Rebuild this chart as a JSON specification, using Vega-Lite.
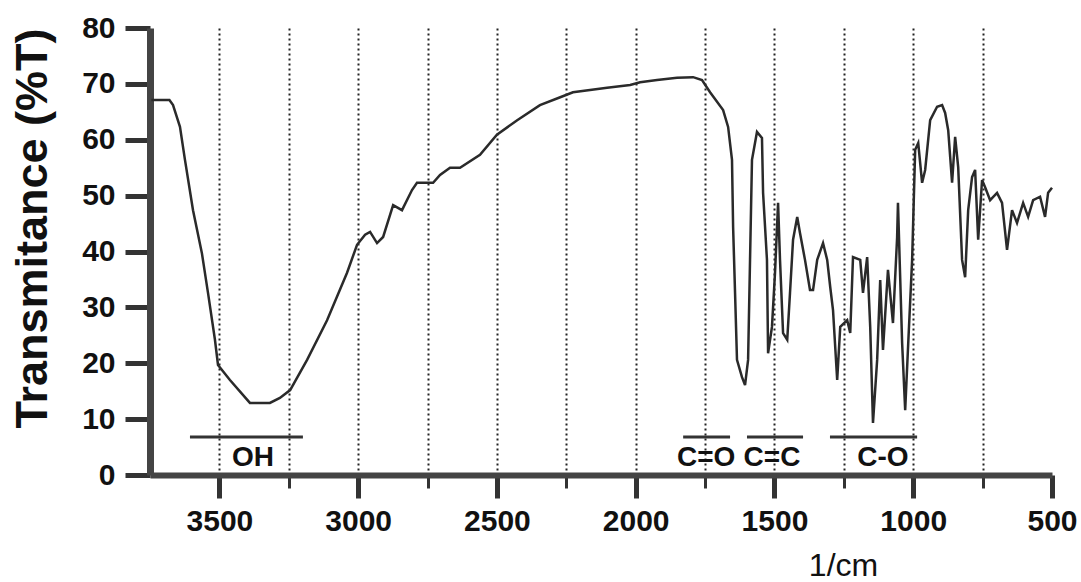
{
  "$schema": "https://vega.github.io/schema/vega-lite/v6.json",
  "width": 902,
  "height": 447,
  "autosize": {"type": "none"},
  "padding": {"left": 150, "top": 28, "right": 29, "bottom": 107},
  "background": "white",
  "config": {"view": {"stroke": null}, "font": "Liberation Sans"},
  "datasets": {
    "spectrum": [
      {"wavenumber": 3745, "transmittance": 67.1},
      {"wavenumber": 3680, "transmittance": 67.1},
      {"wavenumber": 3667, "transmittance": 66.2},
      {"wavenumber": 3642, "transmittance": 62.3},
      {"wavenumber": 3624, "transmittance": 56.4},
      {"wavenumber": 3595, "transmittance": 47.4},
      {"wavenumber": 3563, "transmittance": 39.7},
      {"wavenumber": 3541, "transmittance": 32.6},
      {"wavenumber": 3516, "transmittance": 24.2},
      {"wavenumber": 3505, "transmittance": 19.7},
      {"wavenumber": 3462, "transmittance": 17.0},
      {"wavenumber": 3390, "transmittance": 12.9},
      {"wavenumber": 3318, "transmittance": 12.9},
      {"wavenumber": 3282, "transmittance": 13.8},
      {"wavenumber": 3245, "transmittance": 15.2},
      {"wavenumber": 3184, "transmittance": 20.6},
      {"wavenumber": 3112, "transmittance": 27.7},
      {"wavenumber": 3040, "transmittance": 36.2},
      {"wavenumber": 3004, "transmittance": 41.2},
      {"wavenumber": 2975, "transmittance": 43.0},
      {"wavenumber": 2957, "transmittance": 43.5},
      {"wavenumber": 2932, "transmittance": 41.5},
      {"wavenumber": 2910, "transmittance": 42.6},
      {"wavenumber": 2874, "transmittance": 48.3},
      {"wavenumber": 2842, "transmittance": 47.4},
      {"wavenumber": 2806, "transmittance": 51.0},
      {"wavenumber": 2788, "transmittance": 52.3},
      {"wavenumber": 2730, "transmittance": 52.3},
      {"wavenumber": 2705, "transmittance": 53.7},
      {"wavenumber": 2669, "transmittance": 55.0},
      {"wavenumber": 2633, "transmittance": 55.0},
      {"wavenumber": 2561, "transmittance": 57.3},
      {"wavenumber": 2500, "transmittance": 60.9},
      {"wavenumber": 2427, "transmittance": 63.5},
      {"wavenumber": 2345, "transmittance": 66.2},
      {"wavenumber": 2272, "transmittance": 67.6},
      {"wavenumber": 2226, "transmittance": 68.5},
      {"wavenumber": 2103, "transmittance": 69.3},
      {"wavenumber": 2020, "transmittance": 69.8},
      {"wavenumber": 1984, "transmittance": 70.3},
      {"wavenumber": 1923, "transmittance": 70.7},
      {"wavenumber": 1851, "transmittance": 71.1},
      {"wavenumber": 1793, "transmittance": 71.2},
      {"wavenumber": 1761, "transmittance": 70.7},
      {"wavenumber": 1732, "transmittance": 68.5},
      {"wavenumber": 1685, "transmittance": 65.3},
      {"wavenumber": 1667, "transmittance": 62.3},
      {"wavenumber": 1653, "transmittance": 56.4},
      {"wavenumber": 1649, "transmittance": 44.4},
      {"wavenumber": 1642, "transmittance": 32.6},
      {"wavenumber": 1635, "transmittance": 20.6},
      {"wavenumber": 1617, "transmittance": 17.5},
      {"wavenumber": 1606, "transmittance": 16.1},
      {"wavenumber": 1595, "transmittance": 20.6},
      {"wavenumber": 1588, "transmittance": 38.5},
      {"wavenumber": 1581, "transmittance": 56.4},
      {"wavenumber": 1563, "transmittance": 61.4},
      {"wavenumber": 1545, "transmittance": 60.3},
      {"wavenumber": 1541, "transmittance": 50.5},
      {"wavenumber": 1527, "transmittance": 38.5},
      {"wavenumber": 1523, "transmittance": 21.8},
      {"wavenumber": 1509, "transmittance": 26.5},
      {"wavenumber": 1498, "transmittance": 36.2},
      {"wavenumber": 1487, "transmittance": 48.7},
      {"wavenumber": 1480, "transmittance": 38.5},
      {"wavenumber": 1469, "transmittance": 25.4},
      {"wavenumber": 1454, "transmittance": 24.2},
      {"wavenumber": 1444, "transmittance": 32.6},
      {"wavenumber": 1433, "transmittance": 42.1},
      {"wavenumber": 1418, "transmittance": 46.2},
      {"wavenumber": 1408, "transmittance": 43.3},
      {"wavenumber": 1390, "transmittance": 38.5},
      {"wavenumber": 1372, "transmittance": 33.1},
      {"wavenumber": 1361, "transmittance": 33.1},
      {"wavenumber": 1346, "transmittance": 38.5},
      {"wavenumber": 1325, "transmittance": 41.5},
      {"wavenumber": 1310, "transmittance": 38.5},
      {"wavenumber": 1299, "transmittance": 33.6},
      {"wavenumber": 1289, "transmittance": 29.5},
      {"wavenumber": 1274, "transmittance": 17.0},
      {"wavenumber": 1263, "transmittance": 26.5},
      {"wavenumber": 1238, "transmittance": 27.7},
      {"wavenumber": 1227, "transmittance": 25.4},
      {"wavenumber": 1217, "transmittance": 39.0},
      {"wavenumber": 1191, "transmittance": 38.5},
      {"wavenumber": 1181, "transmittance": 32.6},
      {"wavenumber": 1166, "transmittance": 39.0},
      {"wavenumber": 1155, "transmittance": 26.5},
      {"wavenumber": 1145, "transmittance": 9.3},
      {"wavenumber": 1130, "transmittance": 20.6},
      {"wavenumber": 1119, "transmittance": 34.9},
      {"wavenumber": 1109, "transmittance": 22.4},
      {"wavenumber": 1091, "transmittance": 36.7},
      {"wavenumber": 1073, "transmittance": 27.2},
      {"wavenumber": 1058, "transmittance": 42.6},
      {"wavenumber": 1055, "transmittance": 48.7},
      {"wavenumber": 1040, "transmittance": 23.6},
      {"wavenumber": 1029, "transmittance": 11.6},
      {"wavenumber": 1018, "transmittance": 23.6},
      {"wavenumber": 1004, "transmittance": 38.5},
      {"wavenumber": 993, "transmittance": 58.2},
      {"wavenumber": 982, "transmittance": 59.4},
      {"wavenumber": 968, "transmittance": 52.3},
      {"wavenumber": 957, "transmittance": 54.6},
      {"wavenumber": 939, "transmittance": 63.5},
      {"wavenumber": 914, "transmittance": 65.9},
      {"wavenumber": 896, "transmittance": 66.2},
      {"wavenumber": 885, "transmittance": 64.8},
      {"wavenumber": 874, "transmittance": 61.7},
      {"wavenumber": 860, "transmittance": 52.3},
      {"wavenumber": 849, "transmittance": 60.5},
      {"wavenumber": 838, "transmittance": 55.1},
      {"wavenumber": 824, "transmittance": 38.5},
      {"wavenumber": 813, "transmittance": 35.4},
      {"wavenumber": 802, "transmittance": 47.4},
      {"wavenumber": 788, "transmittance": 53.3},
      {"wavenumber": 777, "transmittance": 54.6},
      {"wavenumber": 766, "transmittance": 42.1},
      {"wavenumber": 752, "transmittance": 52.8},
      {"wavenumber": 741, "transmittance": 51.5},
      {"wavenumber": 723, "transmittance": 49.2},
      {"wavenumber": 698, "transmittance": 50.5},
      {"wavenumber": 680, "transmittance": 48.7},
      {"wavenumber": 662, "transmittance": 40.3},
      {"wavenumber": 644, "transmittance": 47.4},
      {"wavenumber": 626, "transmittance": 45.1},
      {"wavenumber": 604, "transmittance": 48.7},
      {"wavenumber": 586, "transmittance": 46.2},
      {"wavenumber": 568, "transmittance": 49.2},
      {"wavenumber": 543, "transmittance": 49.8},
      {"wavenumber": 525, "transmittance": 46.2},
      {"wavenumber": 514, "transmittance": 50.5},
      {"wavenumber": 500, "transmittance": 51.4}
    ],
    "bands": [
      {"label": "OH", "from": 3606, "to": 3199, "center": 3379},
      {"label": "C=O", "from": 1829, "to": 1660, "center": 1746},
      {"label": "C=C", "from": 1599, "to": 1397, "center": 1509},
      {"label": "C-O", "from": 1300, "to": 986, "center": 1109}
    ]
  },
  "layer": [
    {
      "data": {"name": "spectrum"},
      "mark": {"type": "line", "color": "#2a2a2a", "strokeWidth": 2.5},
      "encoding": {
        "x": {
          "field": "wavenumber",
          "type": "quantitative",
          "scale": {"domain": [3750, 500], "nice": false, "zero": false},
          "axis": {
            "values": [3500, 3250, 3000, 2750, 2500, 2250, 2000, 1750, 1500, 1250, 1000, 750, 500],
            "format": "d",
            "labelExpr": "datum.value % 500 === 0 ? datum.label : ''",
            "labelFontSize": 30,
            "labelFontWeight": "bold",
            "labelColor": "#111",
            "labelPadding": 8,
            "labelFlush": false,
            "labelOverlap": false,
            "tickSize": {"condition": {"test": "datum.value % 500 === 0", "value": 23}, "value": 13},
            "tickWidth": {"condition": {"test": "datum.value % 500 === 0", "value": 5}, "value": 3},
            "tickColor": "#333",
            "domainColor": "#444",
            "domainWidth": 6,
            "grid": true,
            "gridDash": [2, 3],
            "gridColor": "#222",
            "gridWidth": 2,
            "gridOpacity": {"condition": {"test": "datum.value === 500", "value": 0}, "value": 1},
            "title": "1/cm",
            "titleFontSize": 32,
            "titleFontWeight": "normal",
            "titleColor": "#111",
            "titleX": 693,
            "titleY": 100,
            "titleAlign": "center",
            "titleBaseline": "alphabetic"
          }
        },
        "y": {
          "field": "transmittance",
          "type": "quantitative",
          "scale": {"domain": [0, 80], "nice": false},
          "axis": {
            "values": [0, 5, 10, 15, 20, 25, 30, 35, 40, 45, 50, 55, 60, 65, 70, 75, 80],
            "labelExpr": "datum.value % 10 === 0 ? datum.label : ''",
            "labelFontSize": 30,
            "labelFontWeight": "bold",
            "labelColor": "#111",
            "labelPadding": 10,
            "labelFlush": false,
            "labelOverlap": false,
            "tickSize": {"condition": {"test": "datum.value % 10 === 0", "value": 25}, "value": 13},
            "tickWidth": {"condition": {"test": "datum.value % 10 === 0", "value": 5}, "value": 3},
            "tickColor": "#333",
            "domainColor": "#444",
            "domainWidth": 7,
            "grid": false,
            "title": "Transmitance (%T)",
            "titleFontSize": 45,
            "titleFontWeight": "bold",
            "titleColor": "#111",
            "titleX": -118,
            "titleY": 200,
            "titleAlign": "center",
            "titleBaseline": "middle"
          }
        }
      }
    },
    {
      "data": {"name": "bands"},
      "mark": {"type": "rule", "color": "#333", "strokeWidth": 3},
      "encoding": {
        "x": {"field": "from", "type": "quantitative", "title": "1/cm"},
        "x2": {"field": "to"},
        "y": {"datum": 6.8, "type": "quantitative", "title": "Transmitance (%T)"}
      }
    },
    {
      "data": {"name": "bands"},
      "mark": {"type": "text", "fontSize": 28, "fontWeight": "bold", "color": "#111", "baseline": "middle", "align": "center"},
      "encoding": {
        "x": {"field": "center", "type": "quantitative", "title": "1/cm"},
        "y": {"datum": 3, "type": "quantitative", "title": "Transmitance (%T)"},
        "text": {"field": "label"}
      }
    }
  ]
}
